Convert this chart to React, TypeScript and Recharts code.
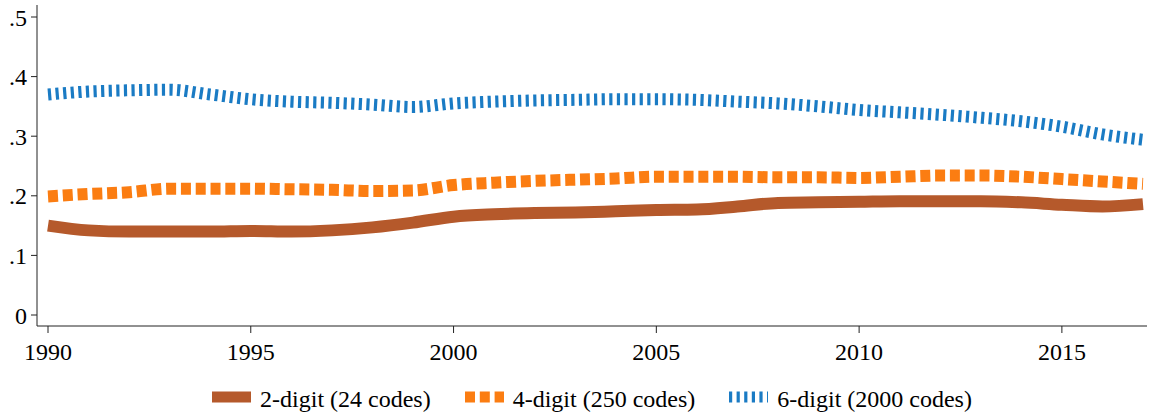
import React from "react";
import { LineChart, Line, XAxis, YAxis } from "recharts";

// years on the x axis
const years = [
  1990, 1991, 1992, 1993, 1994, 1995, 1996, 1997, 1998, 1999, 2000, 2001, 2002, 2003,
  2004, 2005, 2006, 2007, 2008, 2009, 2010, 2011, 2012, 2013, 2014, 2015, 2016, 2017,
];

// 2-digit (24 codes)
const twoDigit = [
  0.15, 0.142, 0.14, 0.14, 0.14, 0.141, 0.14, 0.142, 0.147, 0.155, 0.165, 0.169, 0.171, 0.172,
  0.174, 0.176, 0.177, 0.182, 0.188, 0.189, 0.19, 0.191, 0.191, 0.191, 0.189, 0.185, 0.182, 0.186,
];

// 4-digit (250 codes)
const fourDigit = [
  0.199, 0.203, 0.206, 0.212, 0.212, 0.212, 0.211, 0.21, 0.208, 0.209, 0.218, 0.222, 0.225, 0.227,
  0.229, 0.232, 0.232, 0.232, 0.231, 0.231, 0.23, 0.232, 0.234, 0.234, 0.232, 0.228, 0.224, 0.22,
];

// 6-digit (2000 codes)
const sixDigit = [
  0.37, 0.375, 0.377, 0.378, 0.37, 0.362, 0.358, 0.356, 0.353, 0.349, 0.355, 0.358, 0.36, 0.361,
  0.362, 0.362, 0.361, 0.358, 0.355, 0.35, 0.344, 0.34, 0.336, 0.331, 0.325, 0.316, 0.303, 0.294,
];

const xTicks = [1990, 1995, 2000, 2005, 2010, 2015];
const yTicks = [0, 0.1, 0.2, 0.3, 0.4, 0.5];

const seriesList = [
  { key: "two", name: "2-digit (24 codes)", color: "#b5592b", dash: undefined },
  { key: "four", name: "4-digit (250 codes)", color: "#fb7d12", dash: "10 4.8" },
  { key: "six", name: "6-digit (2000 codes)", color: "#1a7bc4", dash: "3.2 4.4" },
];

const data = years.map((y, i) => ({
  year: y,
  two: twoDigit[i],
  four: fourDigit[i],
  six: sixDigit[i],
}));

const font = "'Liberation Serif', 'Times New Roman', serif";
const tickStyle = { fontFamily: font, fontSize: 24, fill: "#000" };

const fmtY = (v: number) => (v === 0 ? "0" : String(v.toFixed(1)).replace(/^0/, ""));

export default function App() {
  return (
    <div style={{ position: "relative", width: 1151, height: 417, background: "#fff" }}>
      <style>{`body{margin:0;background:#fff}`}</style>
      <LineChart
        width={1151}
        height={366}
        data={data}
        margin={{ top: 5, right: 4, bottom: 0, left: 0 }}
      >
        <XAxis
          dataKey="year"
          type="number"
          domain={[1990, 2017]}
          ticks={xTicks}
          padding={{ left: 11, right: 4 }}
          height={40}
          tickSize={7}
          tickMargin={10}
          stroke="#222"
          tick={tickStyle}
          interval={0}
        />
        <YAxis
          type="number"
          domain={[0, 0.5]}
          ticks={yTicks}
          width={37}
          padding={{ top: 12, bottom: 11 }}
          tickSize={6}
          tickMargin={4}
          stroke="#222"
          tick={tickStyle}
          tickFormatter={fmtY}
          interval={0}
        />
        {seriesList.map((s) => (
          <Line
            key={s.key}
            dataKey={s.key}
            name={s.name}
            type="monotone"
            stroke={s.color}
            strokeWidth={12}
            strokeDasharray={s.dash}
            strokeLinecap="butt"
            dot={false}
            activeDot={false}
            isAnimationActive={false}
          />
        ))}
      </LineChart>
      <div
        style={{
          position: "absolute",
          top: 385,
          left: 37,
          width: 1110,
          display: "flex",
          justifyContent: "center",
          gap: 34,
          fontFamily: font,
          fontSize: 24,
          color: "#000",
          lineHeight: "28px",
        }}
      >
        {seriesList.map((s) => (
          <div key={s.key} style={{ display: "flex", alignItems: "center" }}>
            <svg width={39} height={12} style={{ marginRight: 9, marginTop: -4 }}>
              <line
                x1={0}
                y1={6}
                x2={39}
                y2={6}
                stroke={s.color}
                strokeWidth={11}
                strokeDasharray={s.dash}
              />
            </svg>
            <span>{s.name}</span>
          </div>
        ))}
      </div>
    </div>
  );
}
